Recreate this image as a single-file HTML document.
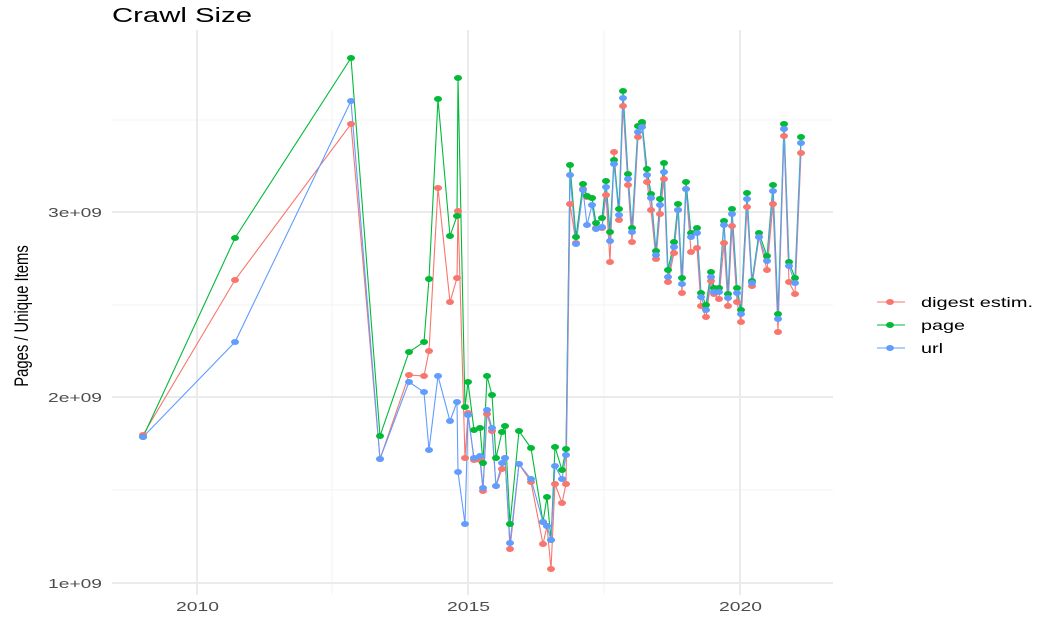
<!DOCTYPE html>
<html><head><meta charset="utf-8"><style>
html,body{margin:0;padding:0;background:#fff;}
svg{display:block;font-family:"Liberation Sans",sans-serif;}
</style></head><body>
<svg id="s" width="1059" height="639" xmlns="http://www.w3.org/2000/svg">
<rect width="1059" height="639" fill="#fff"/>
<g stroke="#f3f3f3" stroke-width="1">
<line x1="332" y1="30" x2="332" y2="595"/><line x1="604" y1="30" x2="604" y2="595"/>
<line x1="112" y1="490" x2="833" y2="490"/><line x1="112" y1="305" x2="833" y2="305"/><line x1="112" y1="120" x2="833" y2="120"/>
</g>
<g stroke="#ebebeb" stroke-width="2">
<line x1="197" y1="30" x2="197" y2="595"/><line x1="468" y1="30" x2="468" y2="595"/><line x1="740" y1="30" x2="740" y2="595"/>
<line x1="112" y1="583" x2="833" y2="583"/><line x1="112" y1="397" x2="833" y2="397"/><line x1="112" y1="212" x2="833" y2="212"/>
</g>
<g id="d"></g>
<g font-size="13" fill="#4d4d4d">
<text x="48" y="588" textLength="54" lengthAdjust="spacingAndGlyphs">1e+09</text><text x="48" y="402" textLength="54" lengthAdjust="spacingAndGlyphs">2e+09</text><text x="48" y="217" textLength="54" lengthAdjust="spacingAndGlyphs">3e+09</text>
<text x="176" y="611" textLength="43" lengthAdjust="spacingAndGlyphs">2010</text><text x="447" y="611" textLength="43" lengthAdjust="spacingAndGlyphs">2015</text><text x="719" y="611" textLength="43" lengthAdjust="spacingAndGlyphs">2020</text>
</g>
<text x="112" y="22" font-size="20" fill="#000" textLength="140" lengthAdjust="spacingAndGlyphs">Crawl Size</text>
<text transform="translate(28,316) rotate(-90) scale(0.78,1)" text-anchor="middle" font-size="19" fill="#000">Pages / Unique Items</text>
<g font-size="14" fill="#000">
<line x1="877" y1="302" x2="905" y2="302" stroke="#F8766D"/><ellipse cx="890" cy="302" rx="4" ry="3" fill="#F8766D"/><text x="921" y="307" textLength="112" lengthAdjust="spacingAndGlyphs">digest estim.</text>
<line x1="877" y1="325" x2="905" y2="325" stroke="#00BA38"/><ellipse cx="890" cy="325" rx="4" ry="3" fill="#00BA38"/><text x="921" y="330" textLength="44" lengthAdjust="spacingAndGlyphs">page</text>
<line x1="877" y1="348" x2="905" y2="348" stroke="#619CFF"/><ellipse cx="890" cy="348" rx="4" ry="3" fill="#619CFF"/><text x="921" y="353" textLength="22" lengthAdjust="spacingAndGlyphs">url</text>
</g>
</svg>
<script>
var D=[[143,435,437,437],[235,280,238,342],[351,124,58,101],[380,459,436,459],[409,375,352,382],[424,376,342,392],[429,351,279,450],[438,188,99,376],[450,302,236,421],[457,278,216,402],[458,211,78,472],[465,458,407,524],[468,413,382,415],[474,460,430,458],[480,460,428,456],[483,491,463,488],[487,414,376,410],[492,431,395,428],[496,486,458,486],[502,469,432,463],[505,458,426,458],[510,549,524,543],[519,464,431,464],[531,482,448,479],[543,544,522,522],[547,526,497,526],[551,569,540,540],[555,484,447,466],[562,503,470,479],[566,484,449,455],[570,204,165,175],[576,243,237,244],[583,189,184,190],[587,197,196,225],[592,198,198,205],[596,228,223,229],[602,228,218,227],[606,195,181,187],[610,262,232,241],[614,152,160,164],[619,220,209,215],[623,106,91,98],[628,185,174,179],[632,242,228,232],[638,137,126,132],[642,124,122,127],[647,182,169,175],[651,210,194,198],[656,259,251,255],[660,214,199,205],[664,179,163,172],[668,282,270,277],[674,253,242,247],[678,210,204,210],[682,293,278,284],[686,189,182,189],[691,252,233,237],[697,248,228,233],[701,306,293,297],[706,317,305,310],[711,281,272,277],[714,294,288,292],[719,299,288,292],[724,243,221,225],[728,306,294,298],[732,226,209,214],[737,302,288,293],[741,322,310,314],[747,207,193,199],[752,286,281,283],[759,237,233,237],[767,270,256,261],[773,204,185,191],[778,332,314,319],[784,136,124,129],[789,282,262,266],[795,294,278,283],[801,153,137,143]];
var C=["#F8766D","#00BA38","#619CFF"],g=document.getElementById("d"),h="";
for(var k=0;k<3;k++){var p=D.map(function(r){return r[0]+","+r[k+1]}).join(" ");h+='<polyline fill="none" stroke="'+C[k]+'" stroke-width="1.1" points="'+p+'"/>';}
for(var k=0;k<3;k++){D.forEach(function(r){h+='<ellipse cx="'+r[0]+'" cy="'+r[k+1]+'" rx="4" ry="3" fill="'+C[k]+'"/>';});}
g.innerHTML=h;
</script>
</body></html>
